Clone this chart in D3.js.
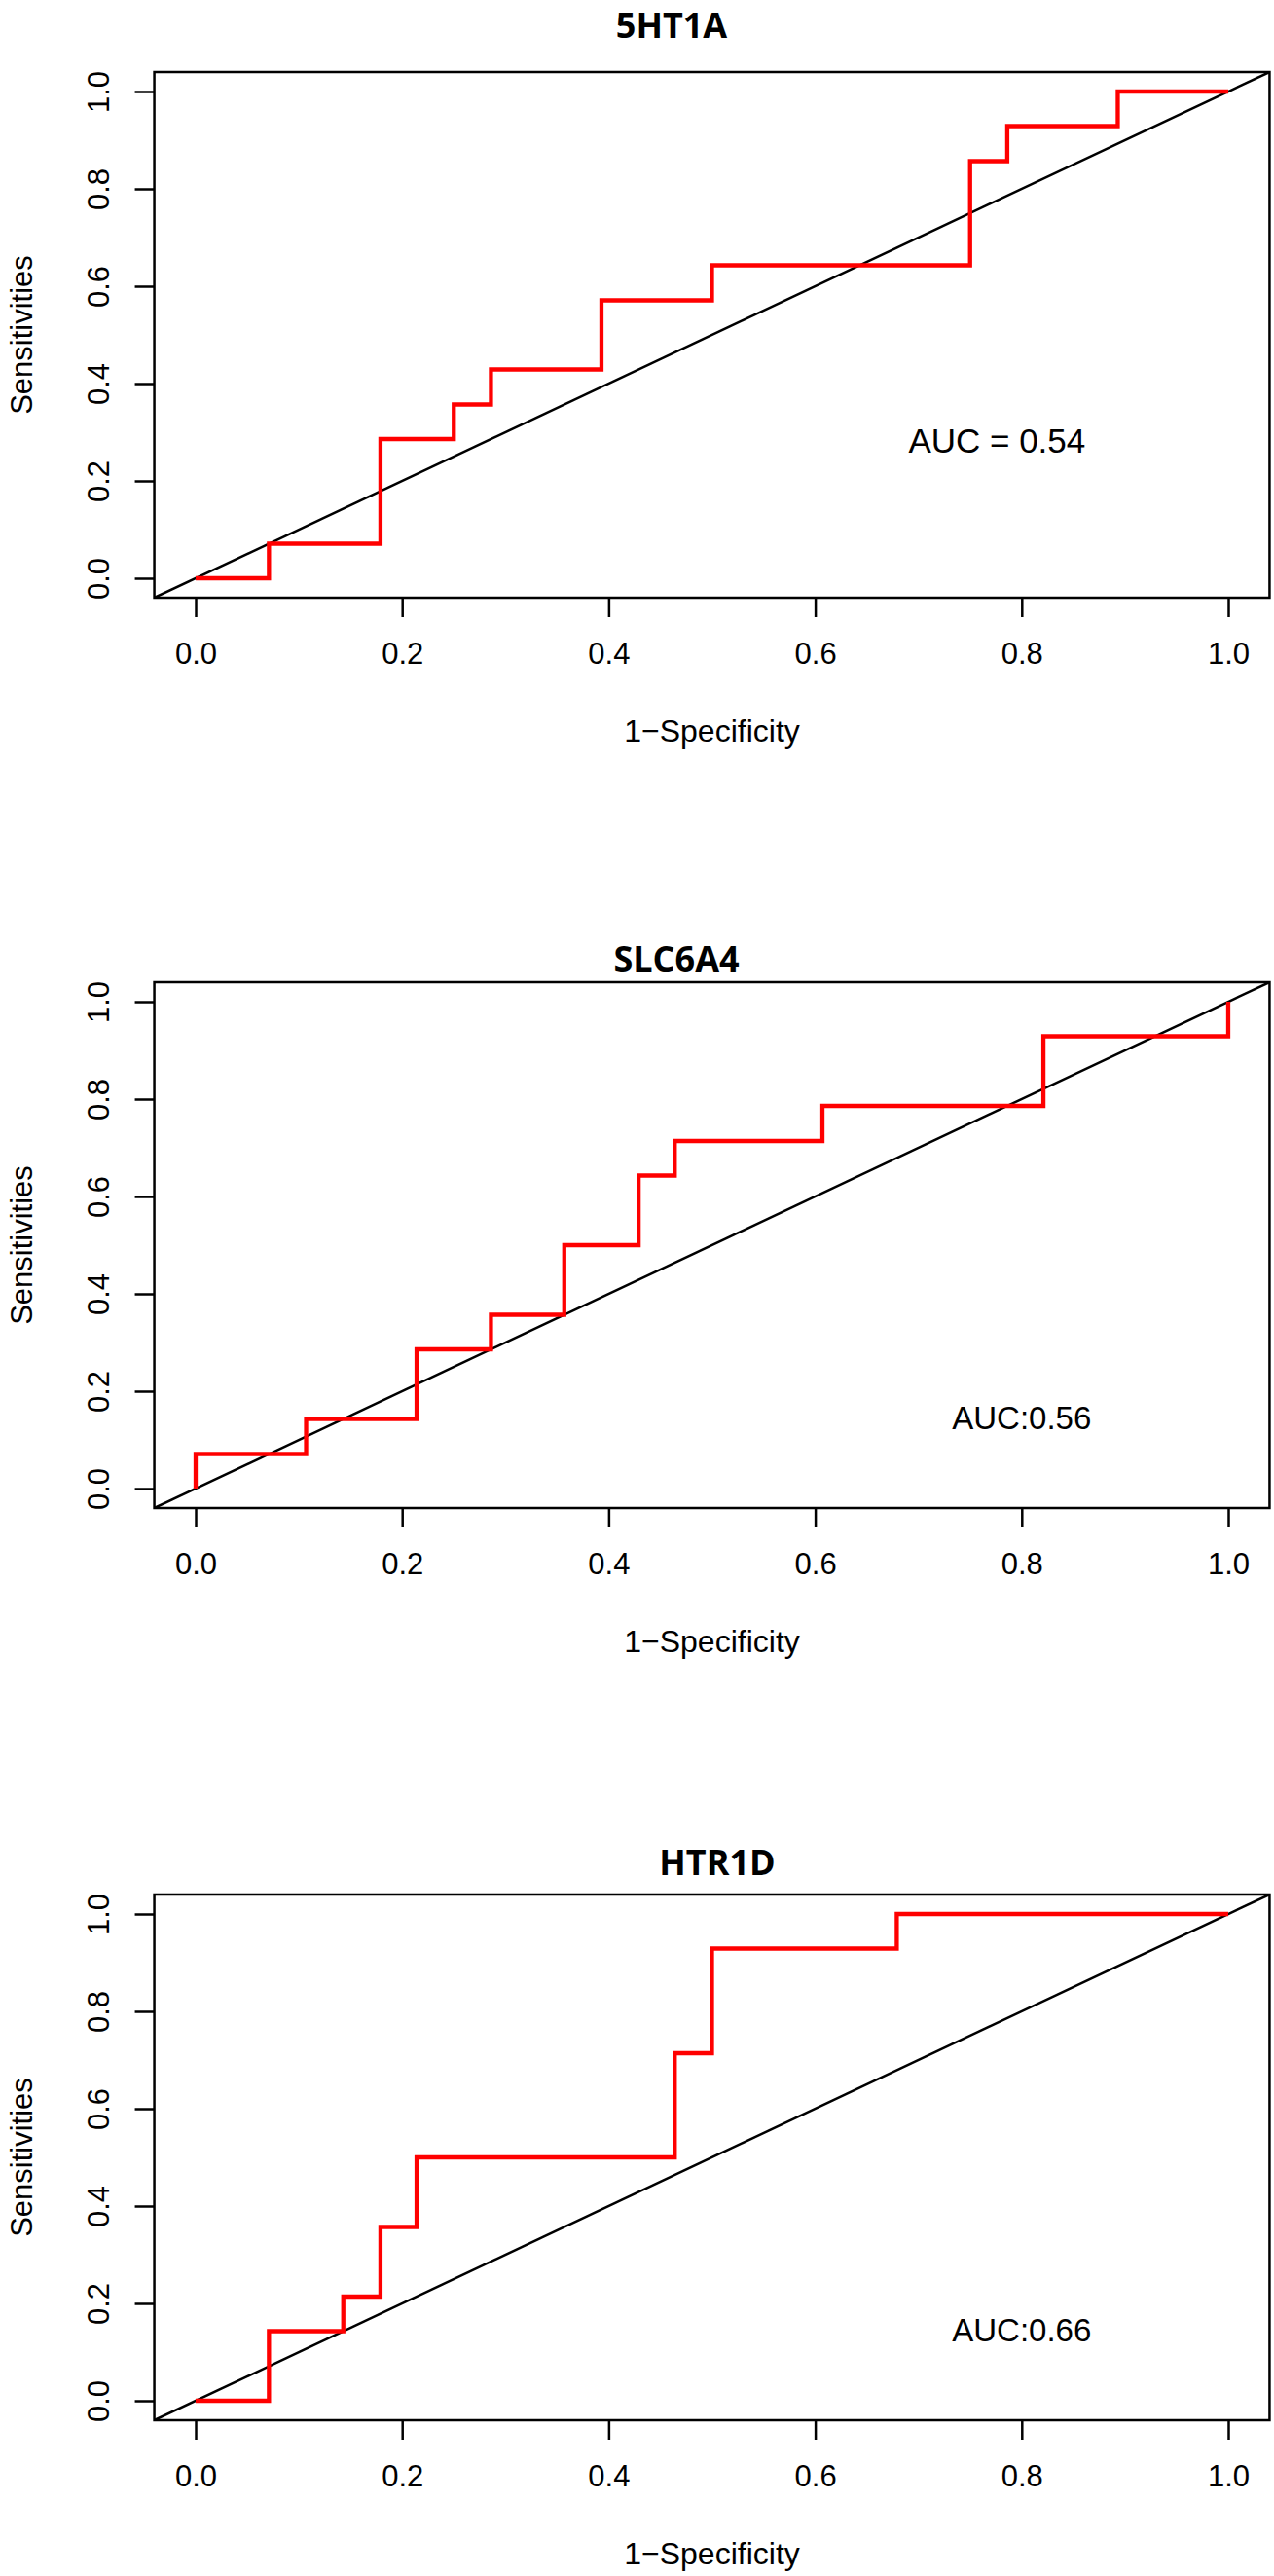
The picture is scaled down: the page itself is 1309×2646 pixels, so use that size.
<!DOCTYPE html>
<html>
<head>
<meta charset="utf-8">
<script src="https://cdn.jsdelivr.net/npm/d3@7"></script>
<style>
  html, body { margin: 0; padding: 0; background: #fff; }
  .tick text { font-family: "Liberation Sans", Arial, sans-serif; }
</style>
</head>
<body>
<svg id="chart" width="1309" height="2646"></svg>
<script>
// Panel titles and AUC annotations
const genes = ['5HT1A', 'SLC6A4', 'HTR1D'];
const aucLabels = ['AUC = 0.54', 'AUC:0.56', 'AUC:0.66'];
const axisTicks = [0, 0.2, 0.4, 0.6, 0.8, 1.0];

// ROC step corners (1-specificity, sensitivity)
const fpr5HT1A = [0, 0.071, 0.179, 0.25, 0.286, 0.393, 0.5, 0.75, 0.786, 0.893, 1.0];
const tpr5HT1A = [0, 0.071, 0.286, 0.357, 0.429, 0.571, 0.643, 0.857, 0.929, 1.0, 1.0];

const fprSLC6A4 = [0, 0, 0.107, 0.214, 0.286, 0.357, 0.429, 0.464, 0.607, 0.821, 1.0];
const tprSLC6A4 = [0, 0.071, 0.143, 0.286, 0.357, 0.5, 0.643, 0.714, 0.786, 0.929, 1.0];

const fprHTR1D = [0, 0.071, 0.143, 0.179, 0.214, 0.464, 0.5, 0.679, 1.0];
const tprHTR1D = [0, 0.143, 0.214, 0.357, 0.5, 0.714, 0.929, 1.0, 1.0];

const curves = [[fpr5HT1A, tpr5HT1A], [fprSLC6A4, tprSLC6A4], [fprHTR1D, tprHTR1D]];

// layout of each panel (the three plots were not exported identically)
const panelLayout = [
  { top: 94,   titleX: 690, titleY: 39,   aucX: 0.776, aucY: 0.258, aucSize: 35 },
  { top: 1029, titleX: 695, titleY: 998,  aucX: 0.80,  aucY: 0.122, aucSize: 33 },
  { top: 1966, titleX: 737, titleY: 1926, aucX: 0.80,  aucY: 0.122, aucSize: 33 }
];

const svg = d3.select('#chart');
svg.append('rect').attr('width', 1309).attr('height', 2646).attr('fill', '#fff');

const x = d3.scaleLinear().domain([0, 1]).range([201, 1262]);
const pad = 0.04;

function drawPanel(i) {
  let lay = panelLayout[i];
  let y = d3.scaleLinear().domain([0, 1]).range([lay.top + 500, lay.top]);

  let g = svg.append('g').attr('class', 'panel');

  let left = x(-pad), right = x(1 + pad),
      top = y(1 + pad), bottom = y(-pad);

  // clip to the plotting region
  let clipId = 'clip' + i;
  g.append('clipPath').attr('id', clipId)
    .append('rect')
    .attr('x', left).attr('y', top)
    .attr('width', right - left).attr('height', bottom - top);

  // x axis
  let xAxis = d3.axisBottom(x)
    .tickValues(axisTicks)
    .tickFormat(d3.format('.1f'))
    .tickSize(20)
    .tickSizeOuter(0);

  let gx = g.append('g')
    .attr('transform', 'translate(0,' + bottom + ')')
    .call(xAxis);
  gx.select('.domain').remove();
  gx.selectAll('.tick line').attr('stroke', '#000').attr('stroke-width', 2.5);
  gx.selectAll('.tick text')
    .attr('y', 68)
    .attr('dy', 0)
    .attr('fill', '#000')
    .style('font-size', '31px');

  // y axis, labels turned sideways like base R
  let yAxis = d3.axisLeft(y)
    .tickValues(axisTicks)
    .tickFormat(d3.format('.1f'))
    .tickSize(20)
    .tickSizeOuter(0);

  let gy = g.append('g')
    .attr('transform', 'translate(' + left + ',0)')
    .call(yAxis);
  gy.select('.domain').remove();
  gy.selectAll('.tick line').attr('stroke', '#000').attr('stroke-width', 2.5);
  gy.selectAll('.tick text')
    .attr('transform', 'rotate(-90)')
    .attr('x', 0)
    .attr('y', -47)
    .attr('dy', 0)
    .attr('text-anchor', 'middle')
    .attr('fill', '#000')
    .style('font-size', '31px');

  // chance line corner to corner
  g.append('line')
    .attr('clip-path', 'url(#' + clipId + ')')
    .attr('x1', x(-pad)).attr('y1', y(-pad))
    .attr('x2', x(1 + pad)).attr('y2', y(1 + pad))
    .attr('stroke', '#000')
    .attr('stroke-width', 2.5);

  // ROC curve
  let pts = curves[i][0].map((fx, k) => [fx, curves[i][1][k]]);
  let line = d3.line()
    .x(d => x(d[0]))
    .y(d => y(d[1]))
    .curve(d3.curveStepAfter);

  g.append('path')
    .datum(pts)
    .attr('d', line)
    .attr('fill', 'none')
    .attr('stroke', '#ff0000')
    .attr('stroke-width', 4.3)
    .attr('stroke-linejoin', 'miter');

  // box
  g.append('rect')
    .attr('x', left).attr('y', top)
    .attr('width', right - left).attr('height', bottom - top)
    .attr('fill', 'none')
    .attr('stroke', '#000')
    .attr('stroke-width', 2.5);

  // title
  g.append('text')
    .attr('x', lay.titleX)
    .attr('y', lay.titleY)
    .attr('text-anchor', 'middle')
    .style('font-family', '"Open Sans", "Noto Sans", sans-serif')
    .style('font-weight', 700)
    .style('font-size', '36px')
    .text(genes[i]);

  // axis titles
  g.append('text')
    .attr('x', (x(0) + x(1)) / 2)
    .attr('y', y(0) + 168)
    .attr('text-anchor', 'middle')
    .style('font-family', '"Liberation Sans", Arial, sans-serif')
    .style('font-size', '32px')
    .text('1\u2212Specificity');

  g.append('text')
    .attr('transform', 'translate(33,' + y(0.5) + ') rotate(-90)')
    .attr('text-anchor', 'middle')
    .style('font-family', '"Liberation Sans", Arial, sans-serif')
    .style('font-size', '31px')
    .text('Sensitivities');

  // AUC label
  g.append('text')
    .attr('x', x(lay.aucX))
    .attr('y', y(lay.aucY))
    .attr('text-anchor', 'middle')
    .style('font-family', '"Liberation Sans", Arial, sans-serif')
    .style('font-size', lay.aucSize + 'px')
    .text(aucLabels[i]);
}

genes.forEach((d, i) => drawPanel(i));
</script>
</body>
</html>
